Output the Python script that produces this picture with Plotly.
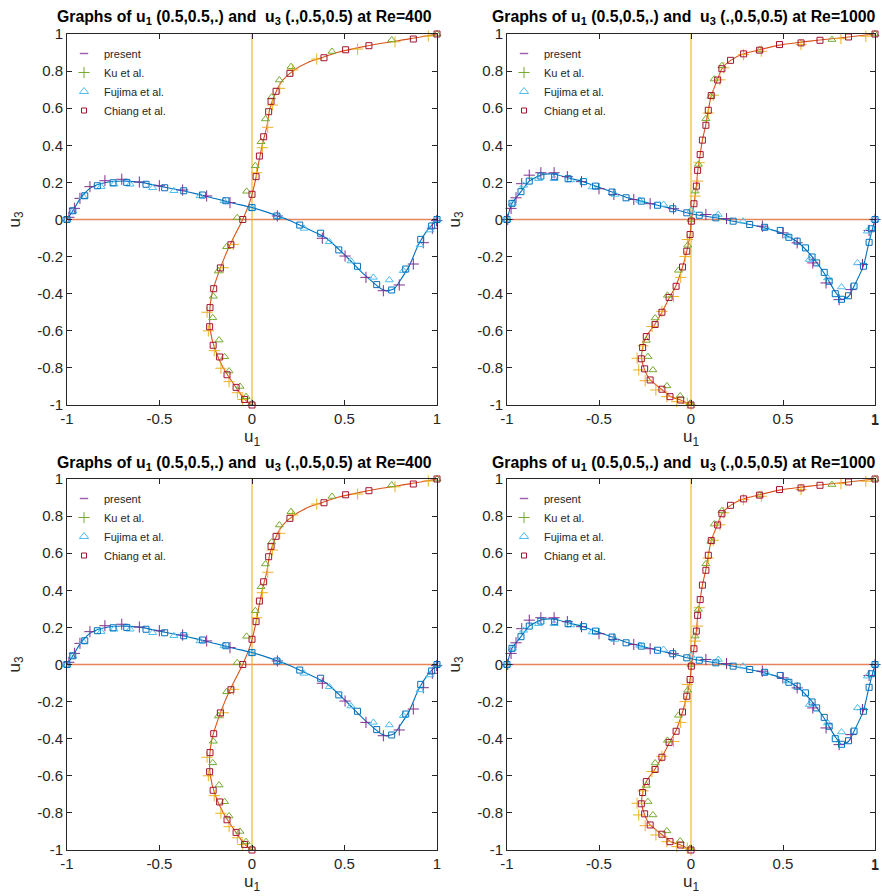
import plotly.graph_objects as go

# ------------------------------------------------------------------
# Re = 400 : u1 along the vertical centre line (z, u1)
# ------------------------------------------------------------------
re400_present_u1_z = [-1.0, -0.97, -0.9, -0.8, -0.7, -0.6, -0.5, -0.4, -0.3, -0.2, -0.1, 0.0,
                      0.1, 0.2, 0.3, 0.4, 0.5, 0.6, 0.7, 0.75, 0.8, 0.85, 0.875, 0.9, 0.925,
                      0.95, 0.975, 1.0]
re400_present_u1 = [0.0, -0.04, -0.09, -0.155, -0.2, -0.225, -0.229, -0.216, -0.185, -0.147,
                    -0.101, -0.05, -0.01, 0.016, 0.035, 0.055, 0.08, 0.097, 0.135, 0.165, 0.22,
                    0.31, 0.385, 0.46, 0.57, 0.7, 0.86, 1.0]

re400_ku_u1_z = [-0.97, -0.934, -0.874, -0.802, -0.707, -0.6, -0.5, -0.26, -0.134, 0.252, 0.387,
                 0.497, 0.617, 0.707, 0.806, 0.865, 0.919, 0.958, 0.989]
re400_ku_u1 = [-0.05, -0.079, -0.124, -0.168, -0.204, -0.236, -0.243, -0.155, -0.101, 0.025,
               0.056, 0.085, 0.11, 0.15, 0.22, 0.35, 0.571, 0.773, 0.953]

re400_fu_u1_z = [-0.99, -0.955, -0.9, -0.817, -0.74, -0.65, -0.53, -0.414, -0.278, -0.147, 0.01,
                 0.152, 0.29, 0.419, 0.542, 0.66, 0.752, 0.824, 0.906, 0.968, 1.0]
re400_fu_u1 = [0.0, -0.032, -0.065, -0.124, -0.148, -0.178, -0.212, -0.209, -0.182, -0.137,
               -0.08, -0.029, 0.018, 0.049, 0.073, 0.106, 0.148, 0.211, 0.432, 0.755, 1.0]

re400_ch_u1_z = [-1.0, -0.97, -0.905, -0.837, -0.741, -0.678, -0.578, -0.475, -0.373, -0.261,
                 -0.136, 0.0, 0.136, 0.231, 0.342, 0.446, 0.581, 0.637, 0.691, 0.788, 0.872,
                 0.915, 0.937, 0.973, 1.0]
re400_ch_u1 = [0.0, -0.04, -0.086, -0.135, -0.175, -0.21, -0.229, -0.227, -0.207, -0.171,
               -0.114, -0.05, 0.0, 0.022, 0.04, 0.063, 0.09, 0.103, 0.13, 0.205, 0.389,
               0.506, 0.632, 0.872, 1.0]

# ------------------------------------------------------------------
# Re = 400 : u3 along the horizontal centre line (x, u3)
# ------------------------------------------------------------------
re400_present_u3_x = [-1.0, -0.97, -0.93, -0.88, -0.83, -0.75, -0.68, -0.6, -0.5, -0.4, -0.3,
                      -0.2, -0.1, 0.0, 0.1, 0.2, 0.3, 0.4, 0.5, 0.6, 0.65, 0.7, 0.73, 0.77,
                      0.8, 0.85, 0.9, 0.95, 0.98, 1.0]
re400_present_u3 = [0.0, 0.045, 0.11, 0.165, 0.19, 0.205, 0.207, 0.2, 0.18, 0.16, 0.138, 0.113,
                    0.088, 0.064, 0.033, -0.004, -0.05, -0.1, -0.19, -0.29, -0.335, -0.375,
                    -0.385, -0.372, -0.33, -0.25, -0.135, -0.055, -0.022, 0.0]

re400_ku_u3_x = [-0.99, -0.96, -0.93, -0.876, -0.795, -0.704, -0.609, -0.501, -0.375, -0.245,
                 -0.119, 0.137, 0.38, 0.503, 0.616, 0.71, 0.796, 0.872, 0.926, 0.975, 0.998]
re400_ku_u3 = [0.012, 0.06, 0.114, 0.177, 0.209, 0.217, 0.202, 0.182, 0.159, 0.127, 0.091,
               0.019, -0.101, -0.197, -0.312, -0.384, -0.353, -0.24, -0.125, -0.047, -0.006]

re400_fu_u3_x = [-1.0, -0.969, -0.912, -0.816, -0.746, -0.659, -0.537, -0.422, -0.281, -0.151,
                 0.0, 0.148, 0.281, 0.418, 0.535, 0.656, 0.742, 0.818, 0.908, 0.962, 1.0]
re400_fu_u3 = [0.0, 0.045, 0.123, 0.177, 0.19, 0.19, 0.171, 0.155, 0.127, 0.1, 0.06, 0.015,
               -0.048, -0.12, -0.224, -0.312, -0.326, -0.276, -0.137, -0.057, 0.0]

re400_ch_u3_x = [-1.0, -0.969, -0.904, -0.836, -0.751, -0.677, -0.573, -0.472, -0.369, -0.268,
                 -0.141, 0.0, 0.134, 0.258, 0.371, 0.469, 0.57, 0.674, 0.755, 0.831, 0.912,
                 0.971, 1.0]
re400_ch_u3 = [0.0, 0.047, 0.128, 0.182, 0.198, 0.2, 0.19, 0.171, 0.155, 0.132, 0.101, 0.064,
               0.019, -0.03, -0.074, -0.164, -0.252, -0.351, -0.38, -0.267, -0.107, -0.035, 0.0]

# ------------------------------------------------------------------
# Re = 1000 : u1 along the vertical centre line (z, u1)
# ------------------------------------------------------------------
re1000_present_u1_z = [-1.0, -0.973, -0.955, -0.915, -0.865, -0.805, -0.751, -0.69, -0.631,
                       -0.566, -0.5, -0.42, -0.36, -0.256, -0.171, -0.081, -0.009, 0.085, 0.18,
                       0.265, 0.35, 0.428, 0.508, 0.589, 0.668, 0.752, 0.813, 0.858, 0.893,
                       0.915, 0.94, 0.955, 0.968, 0.984, 1.0]
re1000_present_u1 = [0.0, -0.056, -0.11, -0.16, -0.222, -0.254, -0.268, -0.263, -0.243,
                     -0.197, -0.158, -0.117, -0.083, -0.046, -0.023, -0.005, 0.002, 0.016,
                     0.029, 0.037, 0.05, 0.062, 0.08, 0.094, 0.11, 0.143, 0.168, 0.215, 0.286,
                     0.373, 0.481, 0.59, 0.7, 0.856, 1.0]

re1000_ku_u1_z = [-1.0, -0.991, -0.982, -0.955, -0.919, -0.869, -0.811, -0.748, -0.681, -0.577,
                  -0.495, -0.415, -0.312, -0.2, -0.108, 0.126, 0.207, 0.306, 0.574, 0.67,
                  0.753, 0.818, 0.889, 0.907, 0.943, 0.975, 0.988]
re1000_ku_u1 = [0.0, -0.02, -0.077, -0.131, -0.191, -0.249, -0.284, -0.293, -0.261, -0.212,
                -0.158, -0.095, -0.056, -0.032, -0.02, 0.022, 0.036, 0.045, 0.094, 0.121,
                0.157, 0.178, 0.286, 0.382, 0.598, 0.815, 0.95]

re1000_fu_u1_z = [-0.991, -0.951, -0.897, -0.811, -0.739, -0.652, -0.531, -0.409, -0.274,
                  -0.139, 0.0, 0.153, 0.297, 0.543, 0.664, 0.757, 0.829, 0.913, 0.97, 1.0]
re1000_fu_u1 = [-0.005, -0.059, -0.131, -0.207, -0.234, -0.243, -0.195, -0.128, -0.068,
                -0.018, 0.0, 0.022, 0.04, 0.081, 0.108, 0.126, 0.168, 0.373, 0.766, 1.0]

re1000_ch_u1_z = [-1.0, -0.973, -0.955, -0.915, -0.865, -0.805, -0.751, -0.69, -0.631, -0.566,
                  -0.5, -0.42, -0.36, -0.256, -0.171, -0.081, -0.009, 0.085, 0.18, 0.265, 0.35,
                  0.428, 0.508, 0.589, 0.668, 0.752, 0.813, 0.858, 0.893, 0.913, 0.943, 0.952,
                  0.966, 0.984, 1.0]
re1000_ch_u1 = [0.0, -0.056, -0.114, -0.158, -0.222, -0.252, -0.27, -0.263, -0.243, -0.195,
                -0.158, -0.119, -0.081, -0.046, -0.023, -0.005, 0.002, 0.016, 0.029, 0.036,
                0.05, 0.062, 0.081, 0.094, 0.11, 0.145, 0.168, 0.215, 0.286, 0.373, 0.481,
                0.598, 0.701, 0.856, 1.0]

# ------------------------------------------------------------------
# Re = 1000 : u3 along the horizontal centre line (x, u3)
# ------------------------------------------------------------------
re1000_present_u3_x = [-1.0, -0.973, -0.924, -0.879, -0.816, -0.75, -0.668, -0.585, -0.519,
                       -0.429, -0.353, -0.27, -0.182, -0.099, -0.023, 0.045, 0.135, 0.229,
                       0.319, 0.4, 0.485, 0.577, 0.658, 0.724, 0.784, 0.818, 0.856, 0.886,
                       0.937, 0.968, 1.0]
re1000_present_u3 = [0.0, 0.087, 0.15, 0.207, 0.24, 0.245, 0.225, 0.204, 0.18, 0.148, 0.12,
                     0.099, 0.077, 0.058, 0.036, 0.023, 0.009, -0.009, -0.027, -0.045, -0.07,
                     -0.12, -0.2, -0.29, -0.39, -0.43, -0.415, -0.36, -0.25, -0.12, 0.0]

re1000_ku_u3_x = [-0.996, -0.978, -0.951, -0.92, -0.879, -0.816, -0.744, -0.672, -0.595, -0.5,
                  -0.419, -0.311, -0.222, -0.095, 0.081, 0.193, 0.388, 0.499, 0.577, 0.662,
                  0.734, 0.805, 0.869, 0.932, 0.968, 1.0]
re1000_ku_u3 = [0.0, 0.06, 0.117, 0.193, 0.239, 0.252, 0.252, 0.231, 0.204, 0.166, 0.135,
                0.108, 0.085, 0.058, 0.027, 0.005, -0.036, -0.072, -0.126, -0.234, -0.342,
                -0.432, -0.378, -0.243, -0.059, 0.0]

re1000_fu_u3_x = [-1.0, -0.97, -0.91, -0.829, -0.744, -0.654, -0.537, -0.414, -0.279, -0.149,
                  0.0, 0.148, 0.283, 0.409, 0.526, 0.643, 0.742, 0.818, 0.905, 0.959, 1.0]
re1000_fu_u3 = [0.0, 0.087, 0.184, 0.22, 0.22, 0.213, 0.175, 0.135, 0.103, 0.081, 0.049,
                0.027, -0.009, -0.045, -0.089, -0.216, -0.315, -0.364, -0.234, -0.063, 0.0]

re1000_ch_u3_x = [-1.0, -0.973, -0.924, -0.879, -0.816, -0.741, -0.668, -0.585, -0.519, -0.429,
                  -0.353, -0.27, -0.182, -0.099, -0.023, 0.045, 0.135, 0.229, 0.319, 0.4,
                  0.485, 0.532, 0.577, 0.622, 0.658, 0.683, 0.724, 0.751, 0.784, 0.818, 0.856,
                  0.886, 0.937, 0.968, 0.98, 1.0]
re1000_ch_u3 = [0.0, 0.087, 0.15, 0.207, 0.234, 0.231, 0.22, 0.204, 0.18, 0.148, 0.117, 0.099,
                0.077, 0.058, 0.036, 0.023, 0.009, -0.009, -0.027, -0.042, -0.059, -0.096,
                -0.117, -0.153, -0.202, -0.234, -0.285, -0.333, -0.4, -0.43, -0.411, -0.359,
                -0.252, -0.123, -0.05, 0.0]

# ------------------------------------------------------------------
# Labels
# ------------------------------------------------------------------
x_tick_vals = [-1, -0.5, 0, 0.5, 1]
x_tick_text = ["-1", "-0.5", "0", "0.5", "1"]
y_tick_vals = [-1, -0.8, -0.6, -0.4, -0.2, 0, 0.2, 0.4, 0.6, 0.8, 1]
y_tick_text = ["-1", "-0.8", "-0.6", "-0.4", "-0.2", "0", "0.2", "0.4", "0.6", "0.8", "1"]
legend_names = ["present", "Ku et al.", "Fujima et al.", "Chiang et al."]
reynolds_labels = ["400", "1000", "400", "1000"]
zero_level = 0

datasets = {
    "400": dict(
        pu1=(re400_present_u1, re400_present_u1_z), pu3=(re400_present_u3_x, re400_present_u3),
        ku1=(re400_ku_u1, re400_ku_u1_z), fu1=(re400_fu_u1, re400_fu_u1_z), cu1=(re400_ch_u1, re400_ch_u1_z),
        ku3=(re400_ku_u3_x, re400_ku_u3), fu3=(re400_fu_u3_x, re400_fu_u3), cu3=(re400_ch_u3_x, re400_ch_u3)),
    "1000": dict(
        pu1=(re1000_present_u1, re1000_present_u1_z), pu3=(re1000_present_u3_x, re1000_present_u3),
        ku1=(re1000_ku_u1, re1000_ku_u1_z), fu1=(re1000_fu_u1, re1000_fu_u1_z), cu1=(re1000_ch_u1, re1000_ch_u1_z),
        ku3=(re1000_ku_u3_x, re1000_ku_u3), fu3=(re1000_fu_u3_x, re1000_fu_u3), cu3=(re1000_ch_u3_x, re1000_ch_u3)),
}

# ------------------------------------------------------------------
# Styling / layout
# ------------------------------------------------------------------
W, H = 882, 896
FONT = "Liberation Sans, Arial, Helvetica, sans-serif"
TXT = "#262626"
ORANGE = "#D95319"
BLUE = "#0072BD"
YELLOW = "#EDB120"
GREEN = "#77AC30"
CYAN = "#4DBEEE"
DRED = "#A2142F"
PURPLE = "#7E2F8E"
LEG_PURPLE = "#9B5FAE"

# pixel boxes of plot areas: (left, right, top, bottom)
boxes = [(67, 437, 34, 405), (507, 875, 34, 405), (67, 437, 479, 850), (507, 875, 479, 850)]

fig = go.Figure()


def mk(symbol, size, color, lw=1):
    return dict(symbol=symbol, size=size, color=color, line=dict(width=lw, color=color))


for i, (re, box) in enumerate(zip(reynolds_labels, boxes), start=1):
    d = datasets[re]
    xa = "x" if i == 1 else f"x{i}"
    ya = "y" if i == 1 else f"y{i}"
    common = dict(xaxis=xa, yaxis=ya, showlegend=False, hoverinfo="skip", cliponaxis=False)

    fig.add_trace(go.Scatter(x=d["pu1"][0], y=d["pu1"][1], mode="lines", line=dict(color=ORANGE, width=1.1, shape="spline", smoothing=0.6), **common))
    fig.add_trace(go.Scatter(x=d["pu3"][0], y=d["pu3"][1], mode="lines", line=dict(color=BLUE, width=1.1, shape="spline", smoothing=0.6), **common))
    fig.add_trace(go.Scatter(x=d["ku1"][0], y=d["ku1"][1], mode="markers", marker=mk("cross-thin-open", 8, YELLOW), **common))
    fig.add_trace(go.Scatter(x=d["fu1"][0], y=d["fu1"][1], mode="markers", marker=mk("triangle-up-open", 7, GREEN), **common))
    fig.add_trace(go.Scatter(x=d["cu1"][0], y=d["cu1"][1], mode="markers", marker=mk("square-open", 6, DRED), **common))
    fig.add_trace(go.Scatter(x=d["ku3"][0], y=d["ku3"][1], mode="markers", marker=mk("cross-thin-open", 8, PURPLE), **common))
    fig.add_trace(go.Scatter(x=d["fu3"][0], y=d["fu3"][1], mode="markers", marker=mk("triangle-up-open", 7, CYAN), **common))
    fig.add_trace(go.Scatter(x=d["cu3"][0], y=d["cu3"][1], mode="markers", marker=mk("square-open", 6, BLUE), **common))

    # legend entries
    leg = "legend" if i == 1 else f"legend{i}"
    leg_markers = [mk("line-ew-open", 6, LEG_PURPLE, 1.4), mk("cross-thin-open", 8, GREEN),
                   mk("triangle-up-open", 8, CYAN), mk("square-open", 5, DRED)]
    for name, m in zip(legend_names, leg_markers):
        fig.add_trace(go.Scatter(x=[None], y=[None], mode="markers", name=name, marker=m,
                                 xaxis=xa, yaxis=ya, legend=leg, showlegend=True))

    # zero reference lines
    fig.add_shape(type="line", xref=f"{xa} domain", yref=ya, x0=0, x1=1, y0=zero_level, y1=zero_level,
                  line=dict(color=ORANGE, width=1.3), opacity=0.7, layer="below")
    fig.add_shape(type="line", xref=xa, yref=f"{ya} domain", x0=zero_level, x1=zero_level, y0=0, y1=1,
                  line=dict(color=YELLOW, width=1.3), opacity=0.85, layer="below")

    l, r, t, b = box
    axis_common = dict(showline=True, linecolor=TXT, linewidth=1, mirror="ticks", ticks="inside",
                       ticklen=5, tickwidth=1, tickcolor=TXT, showgrid=False, zeroline=False,
                       tickfont=dict(family=FONT, size=15, color=TXT), automargin=False,
                       ticklabeloverflow="allow")
    fig.update_layout(**{
        ("xaxis" if i == 1 else f"xaxis{i}"): dict(
            domain=[l / W, r / W], anchor=ya, range=[-1, 1], tickvals=x_tick_vals, ticktext=x_tick_text,
            title=dict(text="u<sub>1</sub>", font=dict(family=FONT, size=17, color=TXT), standoff=4),
            **axis_common),
        ("yaxis" if i == 1 else f"yaxis{i}"): dict(
            domain=[1 - b / H, 1 - t / H], anchor=xa, range=[-1, 1], tickvals=y_tick_vals, ticktext=y_tick_text,
            title=dict(text="u<sub>3</sub>", font=dict(family=FONT, size=17, color=TXT), standoff=12),
            **axis_common),
        leg: dict(x=(l - 3) / W, y=1 - (t + 5) / H, xanchor="left", yanchor="top",
                  bgcolor="rgba(0,0,0,0)", font=dict(family=FONT, size=11, color=TXT),
                  itemwidth=30),
    })

    # right-hand column: plotly drops the last x tick label near the page edge,
    # so draw it as an annotation anchored to the axis value instead
    if r > W / 2 + 100:
        fig.add_annotation(text=x_tick_text[-1], x=x_tick_vals[-1], y=0,
                           xref=xa, yref=f"{ya} domain", xanchor="center", yanchor="top",
                           yshift=-4, showarrow=False,
                           font=dict(family=FONT, size=15, color=TXT))

    fig.add_annotation(
        text=f"<b>Graphs of u<sub>1</sub> (0.5,0.5,.) and \u00a0u<sub>3</sub> (.,0.5,0.5) at Re={re}</b>",
        x=((l + r) / 2 - 8) / W, y=1 - (t - 16) / H, xref="paper", yref="paper",
        xanchor="center", yanchor="middle", showarrow=False,
        font=dict(family=FONT, size=15.8, color="#000000"))

fig.update_layout(width=W, height=H, margin=dict(l=0, r=0, t=0, b=0),
                  paper_bgcolor="white", plot_bgcolor="white")

fig.write_html("out.html", config={"displayModeBar": False},
               post_script="document.body.style.margin='0';document.body.style.overflow='hidden';")
